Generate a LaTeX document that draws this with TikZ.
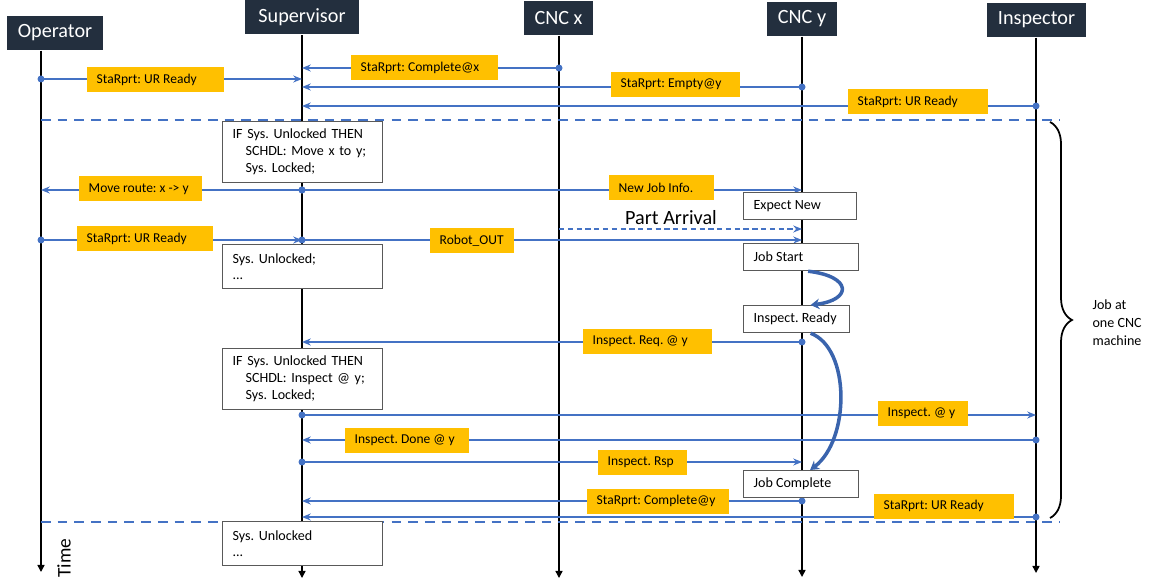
\documentclass[tikz,border=0pt]{standalone}
\usepackage{fontspec}
\setmainfont{Carlito}
\usetikzlibrary{arrows.meta, positioning, calc, decorations.pathreplacing}
\definecolor{cnavy}{HTML}{232F3E}
\definecolor{cyellow}{HTML}{FFC000}
\definecolor{cblue}{HTML}{4472C4}
\definecolor{cdblue}{HTML}{3A64AD}
\definecolor{cgreyb}{HTML}{595959}
\newdimen\pxu \pxu=0.02cm
\frenchspacing
\tikzset{
  every picture/.style={line width=0.8pt},
  head/.style={fill=cnavy, text=white, font=\fontsize{11.5}{13}\selectfont, minimum height=34\pxu, inner sep=0pt},
  life/.style={draw=black, -{Triangle[length=4pt, width=4pt]}},
  sepline/.style={draw=cblue, dash pattern=on 5.5pt off 4pt},
  msgline/.style={draw=cblue, -{Stealth[length=5pt, width=4pt]}},
  msgdot/.style={fill=cblue},
  lbl/.style={fill=cyellow, anchor=west, inner xsep=10\pxu, inner ysep=0pt, minimum height=25\pxu, font=\fontsize{7.7}{9}\selectfont},
  sbox/.style={draw=cgreyb, fill=white, line width=0.7pt, anchor=north west, align=left, inner xsep=10\pxu, text width=140\pxu, font=\fontsize{8}{9.6}\selectfont},
  cbox/.style={draw=cgreyb, fill=white, line width=0.7pt, anchor=north west, inner xsep=10\pxu, minimum height=27\pxu, font=\fontsize{8}{9.6}\selectfont},
  flow/.style={draw=cdblue, line width=2pt, -{Stealth[length=5pt, width=6pt]}},
}
% #1 name, #2 from x, #3 to x, #4 line y, #5 label left, #6 label width, #7 label y, #8 text
\newcommand{\arrowmsg}[8]{%
  \coordinate (#1a) at (#2,#4);
  \coordinate (#1b) at (#3,#4);
  \draw[msgline] (#1a) -- (#1b);
  \fill[msgdot] (#1a) circle (3.5);
  \node[lbl] (#1l) at (#5,#7) {\makebox[#6\pxu][l]{#8}};
}
\begin{document}
\begin{tikzpicture}[x=0.02cm, y=-0.02cm]
  \useasboundingbox (0,0) rectangle (1151,587);
  % actors and their time lines
  \foreach \n/\t/\x/\y/\w in {op/Operator/55/33/96, sup/Supervisor/302/17.5/114, cncx/CNC x/558.5/18/69,
                              cncy/CNC y/802/19/70, insp/Inspector/1036.5/20/99}
    \node[head, minimum width=\w\pxu] (\n) at (\x,\y) {\t};
  \foreach \n/\x/\e in {op/41/572, sup/302/578, cncx/559/578, cncy/802/577, insp/1036/573} {
    \coordinate (\n e) at (\x,\e);
    \draw[life] (\n.south -| \n e) -- (\n e);
  }
  \node[rotate=90, font=\fontsize{11}{13}\selectfont] (time) at (64,558) {Time};
  % one job cycle
  \foreach \s/\y in {sa/120, sb/522} {
    \coordinate (\s l) at (41,\y);
    \coordinate (\s r) at (1060,\y);
    \draw[sepline] (\s l) -- (\s r);
  }
  \arrowmsg{ma}{559}{302}{68}{350}{127}{68}{StaRprt: Complete@x}
  \arrowmsg{mb}{41}{302}{79}{86}{117}{79.5}{StaRprt: UR Ready}
  \arrowmsg{mc}{802}{302}{87}{610}{109}{84.5}{StaRprt: Empty@y}
  \arrowmsg{md}{1036}{302}{106}{847}{120}{101.5}{StaRprt: UR Ready}
  \arrowmsg{me}{302}{41}{190}{78}{103}{189}{Move route: x -> y}
  \arrowmsg{mf}{302}{802}{190}{608}{85}{187.5}{New Job Info.}
  \arrowmsg{mg}{41}{302}{240}{76}{116}{238.5}{StaRprt: UR Ready}
  \arrowmsg{mh}{302}{802}{240}{429}{64}{241}{Robot\_OUT}
  \arrowmsg{mi}{802}{302}{342}{582}{109}{341}{Inspect. Req. @ y}
  \arrowmsg{mj}{302}{1036}{415}{877}{70}{413}{Inspect. @ y}
  \arrowmsg{mk}{1036}{302}{440}{344}{104}{440}{Inspect. Done @ y}
  \arrowmsg{ml}{302}{802}{462}{597}{69}{462}{Inspect. Rsp}
  \arrowmsg{mm}{802}{302}{501}{586}{122}{501}{StaRprt: Complete@y}
  \arrowmsg{mn}{1036}{302}{517}{873}{120}{506}{StaRprt: UR Ready}
  \coordinate (pa) at (559,229);
  \coordinate (pb) at (802,229);
  \draw[msgline, dash pattern=on 3pt off 2pt] (pa) -- (pb);
  \node[anchor=base, font=\fontsize{11.5}{13}\selectfont] (parr) at (671,225) {Part Arrival};
  % supervisor logic
  \node[sbox, minimum height=61\pxu] (ifa) at (222,121) {IF Sys. Unlocked THEN\\\hspace*{13\pxu}SCHDL: Move x to y;\\\hspace*{13\pxu}Sys. Locked;};
  \node[sbox, minimum height=44\pxu] (unla) at (222,244) {Sys. Unlocked;\\...};
  \node[sbox, minimum height=61\pxu] (ifb) at (222,348) {IF Sys. Unlocked THEN\\\hspace*{13\pxu}SCHDL: Inspect @ y;\\\hspace*{13\pxu}Sys. Locked;};
  \node[sbox, minimum height=44\pxu] (unlb) at (222,521) {Sys. Unlocked\\...};
  % machine states
  \foreach \n/\t/\y/\w in {expnew/Expect New/192/93, jstart/Job Start/243/95, iready/Inspect. Ready/305/86, jdone/Job Complete/470/95}
    \node[cbox] (\n) at (743,\y) {\makebox[\w\pxu][l]{\t}};
  \draw[flow] ([xshift=7\pxu]jstart.south) .. controls +(44,5) and +(42,-5) .. ([xshift=14\pxu]iready.north);
  \draw[flow] ([xshift=14\pxu]iready.south) .. controls +(40,15) and +(40,-30) .. ([xshift=9\pxu]jdone.north);
  % brace
  \coordinate (bra) at (1050,122);
  \coordinate (brb) at (1050,518);
  \draw[decorate, decoration={brace, amplitude=22\pxu}, line width=1pt] (bra) -- (brb);
  \node[anchor=west, align=left, font=\fontsize{8}{10.2}\selectfont] (jobtxt) at (1086,323) {Job at\\one CNC\\machine};
\end{tikzpicture}
\end{document}
